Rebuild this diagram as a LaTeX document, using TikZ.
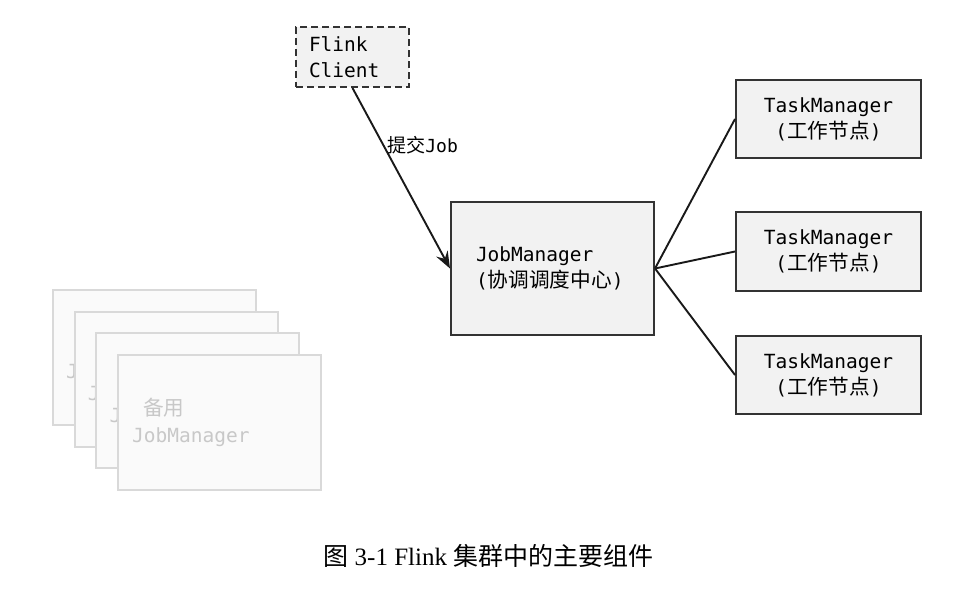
\documentclass[tikz,border=0pt]{standalone}
\usepackage{fontspec}
\setmainfont{DejaVu Sans Mono}
\newfontfamily\zh[Scale=1.06]{Noto Sans CJK SC}
\newfontfamily\zhcap{Noto Sans CJK SC}
\newfontfamily\capserif{Liberation Serif}
\usetikzlibrary{arrows.meta}
\definecolor{boxfill}{HTML}{F2F2F2}
\definecolor{boxline}{HTML}{333333}
\definecolor{bakfill}{HTML}{FAFAFA}
\definecolor{bakline}{HTML}{D9D9D9}
\definecolor{baktext}{HTML}{C8C8C8}
\begin{document}
\begin{tikzpicture}[x=1pt,y=-1pt,
  box/.style={draw=boxline, line width=2pt, fill=boxfill, inner sep=0pt,
    font=\fontsize{19.5}{26}\selectfont},
  bakbox/.style={draw=bakline, line width=2pt, fill=bakfill, inner sep=0pt,
    minimum width=203pt, minimum height=135pt},
  baklabel/.style={inner sep=0pt, anchor=west, text=baktext,
    font=\fontsize{19.5}{27}\selectfont},
  conn/.style={draw=black!90, line width=1.9pt},
  arr/.style={conn, -{Stealth[length=17pt,width=13pt,inset=6pt]}}
]
\useasboundingbox (0,0) rectangle (955,615);

% backup JobManagers (only the edge of the hidden labels shows)
\foreach \i in {0,1,2} {
  \node[bakbox] (bak\i) at (154.5+21.7*\i, 357.5+21.7*\i) {};
  \node[baklabel] (bakj\i) at (66+21.7*\i, 372+21.7*\i) {J};
}
\node[bakbox, text width=175pt, align=left, text=baktext,
  font=\fontsize{19.5}{27}\selectfont] (bak3) at (219.6,422.6)
  {\hspace*{11pt}{\zh 备用}\\JobManager};

% Flink client
\node[box, dashed, dash pattern=on 7pt off 4pt, minimum width=113pt, minimum height=60pt,
  text width=87pt, align=left] (client) at (352.5,57) {Flink\\Client};

% JobManager
\node[box, minimum width=203pt, minimum height=133pt, text width=153pt, align=left]
  (jm) at (552.5,268.5) {JobManager\\({\zh 协调调度中心})};

% TaskManagers
\node[box, minimum width=185pt, minimum height=78pt, align=center]
  (tm1) at (828.5,119) {TaskManager\\({\zh 工作节点})};
\node[box, minimum width=185pt, minimum height=79pt, align=center]
  (tm2) at (828.5,251.5) {TaskManager\\({\zh 工作节点})};
\node[box, minimum width=185pt, minimum height=78pt, align=center]
  (tm3) at (828.5,375) {TaskManager\\({\zh 工作节点})};

% connectors
\draw[arr] (client.south) -- (jm.west);
\node[anchor=west, inner sep=0pt, font=\fontsize{18}{20}\selectfont]
  (submit) at (387,145) {{\zh 提交}Job};
\draw[conn] (jm.east) -- (tm1.west);
\draw[conn] (jm.east) -- (tm2.west);
\draw[conn] (jm.east) -- (tm3.west);

% caption
\node[inner sep=0pt, font=\fontsize{25}{28}\selectfont] (cap) at (488.5,556)
  {{\zhcap 图}\hspace{6pt}\capserif 3-1 Flink {\zhcap 集群中的主要组件}};
\end{tikzpicture}
\end{document}
